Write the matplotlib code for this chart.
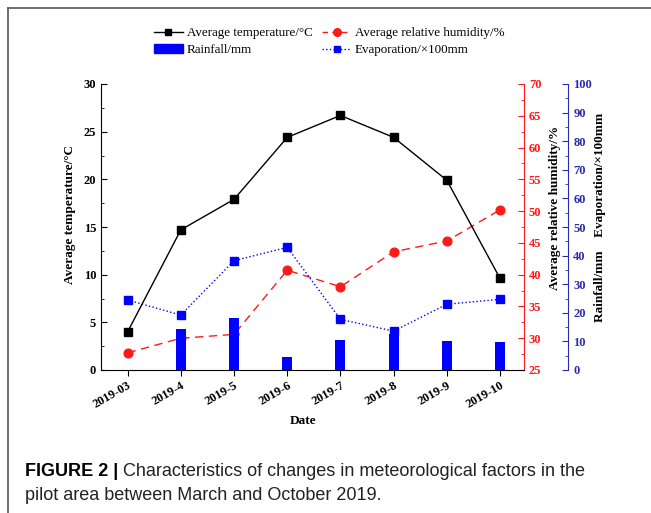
import numpy as np
import matplotlib.pyplot as plt
from matplotlib.lines import Line2D
from matplotlib.patches import Patch
from matplotlib.ticker import MultipleLocator

# --- Data ---
dates = ["2019-03", "2019-4", "2019-5", "2019-6", "2019-7", "2019-8", "2019-9", "2019-10"]
temperature = [4.0, 14.7, 17.9, 24.4, 26.7, 24.4, 19.9, 9.6]
humidity = [27.7, 30.0, 30.6, 40.7, 38.1, 43.6, 45.3, 50.2]
rainfall = [0.0, 14.4, 18.1, 4.7, 10.5, 12.5, 10.2, 9.9]
evaporation = [24.5, 19.2, 38.2, 42.9, 17.7, 13.6, 23.0, 24.7]

SERIF = "Liberation Serif"
RED = "#ff1a1a"
BLUE = "#0000ff"
NAVY = "#2b2bb0"

fig = plt.figure(figsize=(6.51, 5.13), dpi=100)
ax = fig.add_axes([101 / 651, 1 - 370 / 513, 423 / 651, 286 / 513])
ax_h = ax.twinx()
ax_r = ax.twinx()
ax_h.set_zorder(1)
ax_r.set_zorder(2)
ax.set_zorder(3)
ax.patch.set_visible(False)
ax_r.patch.set_visible(False)

x = np.arange(len(dates))

# humidity (under the bars)
ax_h.plot(x, humidity, color=RED, ls=(0, (6, 4)), lw=1.0, marker="o", ms=6.3)
# rainfall bars + evaporation
ax_r.bar(x, rainfall, width=0.19, color=BLUE)
ax_r.plot(x, evaporation, color=BLUE, ls=":", lw=1.0, marker="s", ms=5.2)
# temperature
ax.plot(x, temperature, color="black", lw=1.0, marker="s", ms=6)

ax.set_xlim(-0.5, 7.45)
ax.set_ylim(0, 30)
ax_h.set_ylim(25, 70)
ax_r.set_ylim(0, 100)

# --- axes styling ---
for s in ["top", "right"]:
    ax.spines[s].set_visible(False)
for s in ["top", "left", "bottom"]:
    ax_h.spines[s].set_visible(False)
    ax_r.spines[s].set_visible(False)
ax_h.spines["right"].set_color(RED)
ax_r.spines["right"].set_color(NAVY)
ax_r.spines["right"].set_position(("outward", 32))

ax.set_xticks(x)
ax.set_xticklabels(dates, rotation=30, ha="right", rotation_mode="anchor",
                   fontfamily=SERIF, fontweight="bold", fontsize=9)
ax.tick_params(axis="x", direction="out", length=4, pad=3)

ax.yaxis.set_major_locator(MultipleLocator(5))
ax.yaxis.set_minor_locator(MultipleLocator(2.5))
ax.tick_params(axis="y", which="major", direction="in", length=4)
ax.tick_params(axis="y", which="minor", direction="in", length=2)

ax_h.yaxis.set_major_locator(MultipleLocator(5))
ax_h.yaxis.set_minor_locator(MultipleLocator(2.5))
ax_h.tick_params(axis="y", which="both", direction="in", colors=RED)
ax_h.tick_params(axis="y", which="major", length=4)
ax_h.tick_params(axis="y", which="minor", length=2)

ax_r.yaxis.set_major_locator(MultipleLocator(10))
ax_r.yaxis.set_minor_locator(MultipleLocator(5))
ax_r.tick_params(axis="y", which="both", direction="in", colors=NAVY)
ax_r.tick_params(axis="y", which="major", length=4)
ax_r.tick_params(axis="y", which="minor", length=2)

for a in (ax, ax_h, ax_r):
    for lab in a.get_yticklabels():
        lab.set_fontfamily(SERIF)
        lab.set_fontweight("bold")
        lab.set_fontsize(9)

# --- axis titles ---
fig.text(70 / 651, 1 - 215 / 513, "Average temperature/\u00b0C", rotation=90,
         ha="center", va="center", family=SERIF, weight="bold", fontsize=9.5)
fig.text(555 / 651, 1 - 208 / 513, "Average relative humidity/%", rotation=90,
         ha="center", va="center", family=SERIF, weight="bold", fontsize=9.5)
fig.text(600 / 651, 1 - 217 / 513, "Rainfall/mm    Evaporation/\u00d7100mm", rotation=90,
         ha="center", va="center", family=SERIF, weight="bold", fontsize=9.5)
fig.text(303 / 651, 1 - 421 / 513, "Date", ha="center", va="center",
         family=SERIF, weight="bold", fontsize=9.5)

# --- legend ---
handles = [
    Line2D([], [], color="black", lw=1.0, marker="s", ms=5),
    Patch(color=BLUE),
    Line2D([], [], color=RED, ls=(0, (4, 3)), lw=1.0, marker="o", ms=5.5),
    Line2D([], [], color=BLUE, ls=":", lw=1.0, marker="s", ms=5),
]
labels = ["Average temperature/\u00b0C", "Rainfall/mm",
          "Average relative humidity/%", "Evaporation/\u00d7100mm"]
fig.legend(handles, labels, ncol=2, loc="upper left",
           bbox_to_anchor=(154 / 651, 1 - 27 / 513), frameon=False,
           prop={"family": SERIF, "size": 9.4}, handlelength=2.2,
           handletextpad=0.3, columnspacing=0.75, labelspacing=0.4,
           borderaxespad=0, borderpad=0)

# --- caption ---
cap_font = "Liberation Sans"
t1 = fig.text(25 / 651, 1 - 471 / 513, "FIGURE 2 | ", family=cap_font,
              weight="bold", fontsize=13, va="center")
fig.canvas.draw()
bb = t1.get_window_extent()
fig.text(bb.x1 / 651, 1 - 471 / 513, "Characteristics of changes in meteorological factors in the",
         family=cap_font, fontsize=13, va="center", color="#222222")
fig.text(25 / 651, 1 - 496 / 513, "pilot area between March and October 2019.",
         family=cap_font, fontsize=13, va="center", color="#222222")

# --- frame around the figure ---
fig.add_artist(Line2D([8 / 651, 1], [1 - 8 / 513, 1 - 8 / 513], color="#555555", lw=1.2))
fig.add_artist(Line2D([8 / 651, 8 / 651], [0, 1 - 8 / 513], color="#555555", lw=1.2))

fig.savefig("out.png", dpi=100)
